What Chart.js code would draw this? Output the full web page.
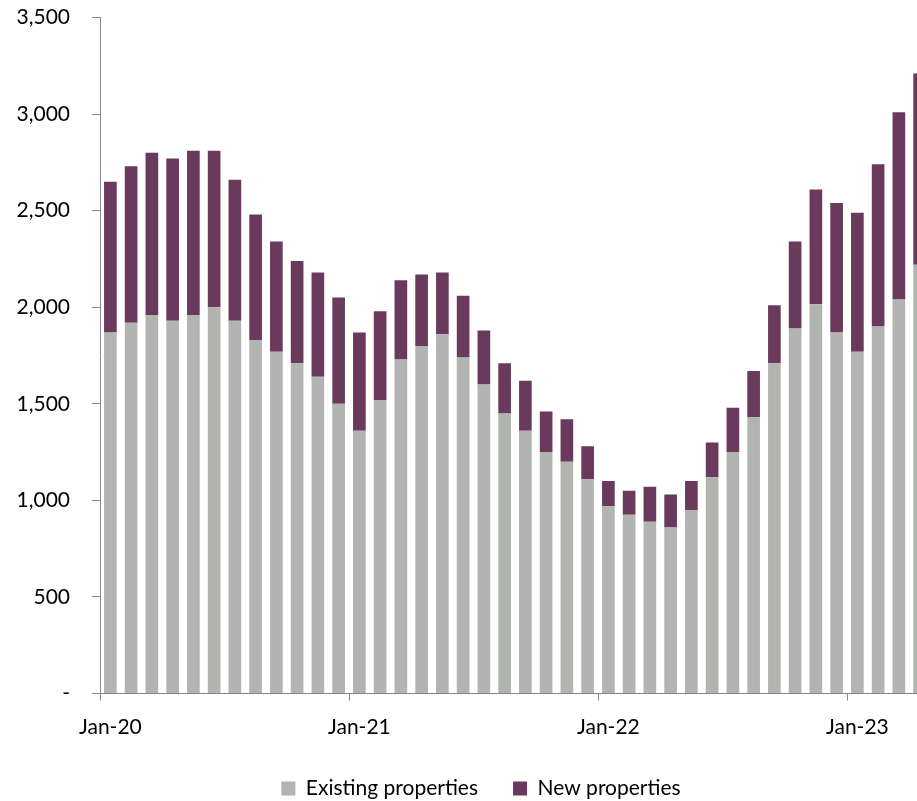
<!DOCTYPE html>
<html>
<head>
<meta charset="utf-8">
<title>Existing vs new properties</title>
<script src="https://cdn.jsdelivr.net/npm/chart.js@4"></script>
<style>
    html, body { margin: 0; padding: 0; background: #fff; overflow: hidden; }
    /* the source image is a crop of a larger chart, so the canvas overhangs the window */
    #wrap { position: absolute; left: 0; top: -17px; width: 962px; height: 826px; }
</style>
</head>
<body>
<div id="wrap"><canvas id="propChart"></canvas></div>
<script>
// --- Data ---
const months = [
    'Jan-20','Feb-20','Mar-20','Apr-20','May-20','Jun-20','Jul-20','Aug-20','Sep-20','Oct-20','Nov-20','Dec-20',
    'Jan-21','Feb-21','Mar-21','Apr-21','May-21','Jun-21','Jul-21','Aug-21','Sep-21','Oct-21','Nov-21','Dec-21',
    'Jan-22','Feb-22','Mar-22','Apr-22','May-22','Jun-22','Jul-22','Aug-22','Sep-22','Oct-22','Nov-22','Dec-22',
    'Jan-23','Feb-23','Mar-23','Apr-23'
];
const existingProps = [
    1870, 1920, 1960, 1930, 1960, 2000, 1930, 1830, 1770, 1710, 1640, 1500,
    1360, 1520, 1730, 1800, 1860, 1740, 1600, 1450, 1360, 1250, 1200, 1110,
    970, 925, 890, 860, 950, 1120, 1250, 1430, 1710, 1890, 2015, 1870,
    1770, 1900, 2040, 2220
];
const newProps = [
    780, 810, 840, 840, 850, 810, 730, 650, 570, 530, 540, 550,
    510, 460, 410, 370, 320, 320, 280, 260, 260, 210, 220, 170,
    130, 125, 180, 170, 150, 180, 230, 240, 300, 450, 595, 670,
    720, 840, 970, 990
];
const yTicks = { min: 0, max: 3500, step: 500 };

const axisGrey = '#868686';

Chart.defaults.font.family = 'Lato, "Open Sans", sans-serif';
Chart.defaults.color = '#000';

new Chart(document.getElementById('propChart'), {
    type: 'bar',
    data: {
        labels: months,
        datasets: [{
            label: 'Existing properties',
            data: existingProps,
            backgroundColor: '#b2b4b1'
        }, {
            label: 'New properties',
            data: newProps,
            backgroundColor: '#6a3a5c'
        }]
    },
    options: {
        responsive: true,
        maintainAspectRatio: false,
        animation: false,
        layout: { padding: 0 },
        datasets: {
            bar: { categoryPercentage: 0.61, barPercentage: 1 }
        },
        plugins: {
            tooltip: { enabled: false },
            legend: {
                position: 'bottom',
                labels: {
                    boxWidth: 14,
                    boxHeight: 14,
                    padding: 35,
                    font: { size: 21 }
                }
            }
        },
        scales: {
            x: {
                stacked: true,
                border: { color: axisGrey, width: 1 },
                grid: {
                    drawOnChartArea: false,
                    tickLength: 7,
                    // tick marks only at the year boundaries
                    color: (c) => (c.index % 12 === 0 ? axisGrey : 'rgba(0,0,0,0)')
                },
                ticks: {
                    autoSkip: false,
                    maxRotation: 0,
                    padding: 14,
                    font: { size: 21 },
                    callback: function(val, i) { return i % 12 === 0 ? months[i] : ''; }
                },
                afterFit: (s) => { s.height = 49.5; }
            },
            y: {
                stacked: true,
                min: yTicks.min,
                max: yTicks.max,
                border: { color: axisGrey, width: 1 },
                grid: { drawOnChartArea: false, tickLength: 8, color: axisGrey },
                ticks: {
                    stepSize: yTicks.step,
                    padding: 22,
                    font: { size: 21 },
                    callback: (v) => (v === 0 ? '-' : v.toLocaleString('en-US'))
                },
                afterFit: (s) => { s.width = 100; }
            },
            // empty spacer on the right so the plot ends where the source's does
            yRight: {
                position: 'right',
                grid: { display: false },
                border: { display: false },
                ticks: { display: false },
                afterFit: (s) => { s.width = 32; }
            }
        }
    }
});
</script>
</body>
</html>
